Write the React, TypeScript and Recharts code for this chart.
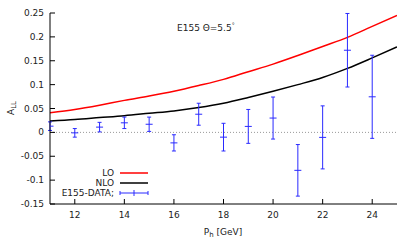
import { ComposedChart, Line, Scatter, ErrorBar, XAxis, YAxis, ReferenceLine, Customized } from 'recharts'

const xTicks = [12, 14, 16, 18, 20, 22, 24]
const yTicks = [-0.15, -0.1, -0.05, 0, 0.05, 0.1, 0.15, 0.2, 0.25]

// theory curves
const curveX = [11, 12, 13, 14, 15, 16, 17, 18, 19, 20, 21, 22, 23, 24, 25]
const loVals = [0.041, 0.048, 0.057, 0.067, 0.076, 0.086, 0.098, 0.111, 0.127, 0.143, 0.161, 0.18, 0.199, 0.222, 0.245]
const nloVals = [0.024, 0.027, 0.031, 0.035, 0.04, 0.045, 0.052, 0.061, 0.073, 0.086, 0.1, 0.115, 0.134, 0.156, 0.179]

// E155 data
const dataX = [11, 12, 13, 14, 15, 16, 17, 18, 19, 20, 21, 22, 23, 24]
const dataA = [0.013, -0.001, 0.011, 0.02, 0.017, -0.022, 0.038, -0.01, 0.0125, 0.03, -0.0795, -0.0105, 0.172, 0.0745]
const dataErr = [0.009, 0.009, 0.01, 0.012, 0.015, 0.017, 0.023, 0.029, 0.0355, 0.044, 0.054, 0.066, 0.077, 0.087]

const lo = curveX.map((x, i) => ({ x, v: loVals[i] }))
const nlo = curveX.map((x, i) => ({ x, v: nloVals[i] }))
const e155 = dataX.map((x, i) => ({ x, a: dataA[i], err: dataErr[i] }))

const FONT = 'DejaVu Sans'
const BLUE = '#2a2aff'

const fmt = (v: number) => String(Number(v.toFixed(2)))

const BottomTick = (p: any) => (
    <g>
        <line x1={p.x} x2={p.x} y1={p.y} y2={p.y - 5} stroke="#000" />
        <text x={p.x} y={p.y + 14} textAnchor="middle" fontSize={9} fontFamily={FONT} fill="#222">{p.payload.value}</text>
    </g>
)
const LeftTick = (p: any) => (
    <g>
        <line x1={p.x} x2={p.x + 5} y1={p.y} y2={p.y} stroke="#000" />
        <text x={p.x - 6} y={p.y + 3} textAnchor="end" fontSize={9} fontFamily={FONT} fill="#222">{fmt(p.payload.value)}</text>
    </g>
)
const TopTick = (p: any) => <line x1={p.x} x2={p.x} y1={p.y} y2={p.y + 5} stroke="#000" />
const RightTick = (p: any) => <line x1={p.x - 5} x2={p.x} y1={p.y} y2={p.y} stroke="#000" />

const Cross = (p: any) => <line x1={p.cx - 3.5} x2={p.cx + 3.5} y1={p.cy} y2={p.cy} stroke={BLUE} />

const Texts = () => (
    <g fontFamily={FONT} fill="#222">
        <text x={177} y={31} fontSize={9}>E155 Θ=5.5<tspan fontSize={6} dy={-4}>°</tspan></text>
        <text transform="translate(14,108) rotate(-90)" textAnchor="middle" fontSize={9}>
            A<tspan fontSize={7} dy={2}>LL</tspan>
        </text>
        <text x={223} y={235} textAnchor="middle" fontSize={9}>
            P<tspan fontSize={7} dy={2}>h</tspan><tspan dy={-2}> [GeV]</tspan>
        </text>
        <text x={114} y={176} textAnchor="end" fontSize={9}>LO</text>
        <line x1={120} x2={148} y1={173} y2={173} stroke="#ff0000" strokeWidth={1.5} />
        <text x={114} y={186} textAnchor="end" fontSize={9}>NLO</text>
        <line x1={120} x2={148} y1={183} y2={183} stroke="#000" strokeWidth={1.5} />
        <text x={114} y={196} textAnchor="end" fontSize={9}>E155-DATA;</text>
        <g stroke={BLUE}>
            <line x1={120} x2={148} y1={193} y2={193} />
            <line x1={120} x2={120} y1={191} y2={195} />
            <line x1={148} x2={148} y1={191} y2={195} />
            <line x1={134} x2={134} y1={190} y2={196} />
        </g>
    </g>
)

export default function App() {
    return (
        <div style={{ position: 'absolute', left: 0, top: 0, background: '#fff' }}>
            <ComposedChart width={415} height={249} margin={{ top: 13, right: 18, bottom: 0, left: 0 }}>
                <XAxis dataKey="x" type="number" domain={[11, 25]} ticks={xTicks} height={45}
                    axisLine={{ stroke: '#000' }} tickLine={false} tickSize={0} tickMargin={0} tick={<BottomTick />} allowDataOverflow />
                <XAxis xAxisId="top" orientation="top" dataKey="x" type="number" domain={[11, 25]} ticks={xTicks} height={0}
                    axisLine={{ stroke: '#000' }} tickLine={false} tickSize={0} tickMargin={0} tick={<TopTick />} allowDataOverflow />
                <YAxis type="number" domain={[-0.15, 0.25]} ticks={yTicks} width={50}
                    axisLine={{ stroke: '#000' }} tickLine={false} tickSize={0} tickMargin={0} tick={<LeftTick />} allowDataOverflow />
                <YAxis yAxisId="r" orientation="right" type="number" domain={[-0.15, 0.25]} ticks={yTicks} width={0}
                    axisLine={{ stroke: '#888', strokeWidth: 2 }} tickLine={false} tickSize={0} tickMargin={0} tick={<RightTick />} allowDataOverflow />
                <ReferenceLine y={0} stroke="#999" strokeDasharray="1 2" />
                <Line data={lo} dataKey="v" type="monotone" stroke="#ff0000" strokeWidth={1.5} dot={false} isAnimationActive={false} />
                <Line data={nlo} dataKey="v" type="monotone" stroke="#000" strokeWidth={1.5} dot={false} isAnimationActive={false} />
                <Scatter data={e155} dataKey="a" fill={BLUE} shape={<Cross />} isAnimationActive={false}>
                    <ErrorBar dataKey="err" direction="y" width={2} stroke={BLUE} strokeWidth={1} isAnimationActive={false} />
                </Scatter>
                <Customized component={<Texts />} />
            </ComposedChart>
        </div>
    )
}
